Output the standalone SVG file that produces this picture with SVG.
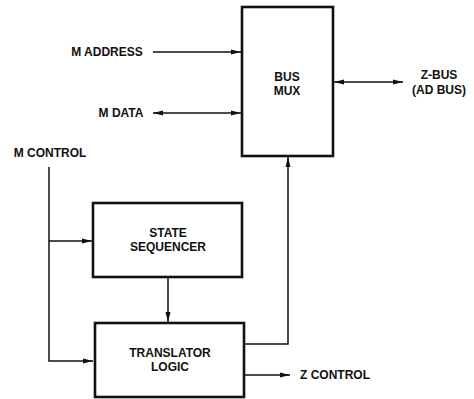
<svg xmlns="http://www.w3.org/2000/svg" width="474" height="399" viewBox="0 0 474 399">
<style>
text{font-family:"Liberation Sans",Arial,sans-serif;font-weight:bold;font-size:12px;fill:#111;text-anchor:middle;dominant-baseline:central}
.box{fill:#fff;stroke:#111;stroke-width:2.6}
.ln{fill:none;stroke:#111;stroke-width:1.5}
</style>
<defs>
<marker id="ah" viewBox="0 0 10 6" refX="10" refY="3" markerWidth="10" markerHeight="6" markerUnits="userSpaceOnUse" orient="auto-start-reverse">
<path d="M0,0.5 L10,3 L0,5.5 Z" fill="#111"/>
</marker>
</defs>
<g id="connectors">
<line class="ln" x1="153" y1="52" x2="241" y2="52" marker-end="url(#ah)"/>
<line class="ln" x1="153" y1="113" x2="241" y2="113" marker-start="url(#ah)" marker-end="url(#ah)"/>
<line class="ln" x1="334" y1="82" x2="403" y2="82" marker-start="url(#ah)" marker-end="url(#ah)"/>
<polyline class="ln" points="49,167 49,361 93,361" marker-end="url(#ah)"/>
<line class="ln" x1="49" y1="241" x2="92" y2="241" marker-end="url(#ah)"/>
<line class="ln" x1="168" y1="278" x2="168" y2="322" marker-end="url(#ah)"/>
<polyline class="ln" points="245,344 288,344 288,157" marker-end="url(#ah)"/>
<line class="ln" x1="245" y1="375" x2="290" y2="375" marker-end="url(#ah)"/>
</g>
<g id="bus-mux">
<rect class="box" x="242" y="7" width="91" height="149"/>
<text x="287" y="77">BUS</text>
<text x="287" y="91">MUX</text>
</g>
<g id="state-sequencer">
<rect class="box" x="93" y="203" width="149" height="74"/>
<text x="168" y="233">STATE</text>
<text x="168" y="247">SEQUENCER</text>
</g>
<g id="translator-logic">
<rect class="box" x="95" y="323" width="149" height="74"/>
<text x="170" y="353">TRANSLATOR</text>
<text x="170" y="367">LOGIC</text>
</g>
<g id="labels">
<text x="107" y="52">M ADDRESS</text>
<text x="121" y="113">M DATA</text>
<text x="50" y="153">M CONTROL</text>
<text x="439" y="75">Z-BUS</text>
<text x="439" y="90">(AD BUS)</text>
<text x="335" y="375">Z CONTROL</text>
</g>
</svg>
